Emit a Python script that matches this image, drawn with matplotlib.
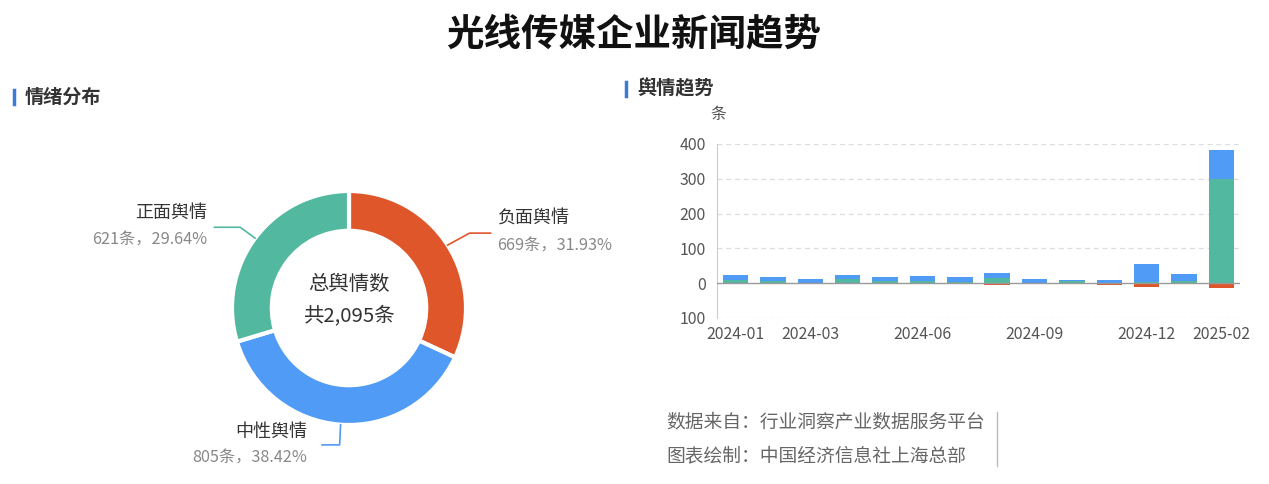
import numpy as np
import matplotlib
matplotlib.use("Agg")
import matplotlib.pyplot as plt

plt.rcParams['font.family'] = ['Noto Sans CJK SC', 'DejaVu Sans']

W, H = 1269, 484

# donut data
pie_names = ['负面舆情', '中性舆情', '正面舆情']
pie_counts = [669, 805, 621]
pie_pcts = ['31.93%', '38.42%', '29.64%']
total_label = '共2,095条'

# monthly trend (stacked: positive + neutral up, negative down)
months = ['2024-01', '2024-02', '2024-03', '2024-04', '2024-05', '2024-06', '2024-07',
          '2024-08', '2024-09', '2024-10', '2024-11', '2024-12', '2025-01', '2025-02']
positive = [10, 7, 2, 12, 5, 6, 3, 14, 1, 7, 1, 3, 6, 300]
neutral = [15, 10, 10, 13, 13, 15, 15, 15, 10, 1, 9, 51, 21, 82]
negative = [0, 0, 0, 0, 2, 0, 0, 6, 0, 0, 5, 12, 0, 15]
shown_months = ['2024-01', '2024-03', '2024-06', '2024-09', '2024-12', '2025-02']
yticks = [-100, 0, 100, 200, 300, 400]

RED = '#E0562B'
BLUE = '#4F9BF5'
GREEN = '#52B8A0'
colors = [RED, BLUE, GREEN]


def fx(px):
    return px / W


def fy(py):
    return 1 - py / H


fig = plt.figure(figsize=(W / 100, H / 100), dpi=100)
fig.patch.set_facecolor('white')

fig.text(fx(634), fy(34), '光线传媒企业新闻趋势', ha='center', va='center',
         fontsize=27, fontweight='heavy', color='#111111')

# section headers
for x, y, t in [(14, 97, '情绪分布'), (626, 89, '舆情趋势')]:
    fig.add_artist(plt.Line2D([fx(x), fx(x)], [fy(y - 7), fy(y + 7)], color='#3A7BD5', lw=2.5))
    fig.text(fx(x + 11), fy(y), t, ha='left', va='center', fontsize=13.8,
             fontweight='bold', color='#333333')

# ---- donut ----
R = 117
cx, cy = 349, 308
pax = fig.add_axes([fx(cx - R), fy(cy + R), 2 * R / W, 2 * R / H])
wedges, _ = pax.pie(pie_counts, colors=colors, startangle=90, counterclock=False,
                    radius=1, wedgeprops=dict(width=0.34, edgecolor='white', linewidth=3))
pax.set_xlim(-1, 1)
pax.set_ylim(-1, 1)
pax.set_aspect('equal')
pax.axis('off')

pax.text(0, 0.2, '总舆情数', ha='center', va='center', fontsize=14.7, color='#333333')
pax.text(0, -0.07, total_label, ha='center', va='center', fontsize=14.7, color='#333333')

# leader lines: (elbow, end, name pos, value pos, align)
leaders = [
    ((1.03, 0.64), (1.21, 0.64), (1.27, 0.77), (1.27, 0.53), 'left'),
    ((-0.08, -1.17), (-0.23, -1.17), (-0.36, -1.06), (-0.36, -1.28), 'right'),
    ((-0.93, 0.69), (-1.15, 0.69), (-1.21, 0.81), (-1.21, 0.58), 'right'),
]
for w, c, name, n, pct, (elb, end, npos, vpos, ha) in zip(
        wedges, colors, pie_names, pie_counts, pie_pcts, leaders):
    ang = np.deg2rad((w.theta1 + w.theta2) / 2)
    sx, sy = np.cos(ang), np.sin(ang)
    pax.plot([sx, elb[0], end[0]], [sy, elb[1], end[1]], color=c, lw=1.2, clip_on=False)
    pax.text(npos[0], npos[1], name, ha=ha, va='center', fontsize=13, color='#333333')
    pax.text(vpos[0], vpos[1], f'{n}条，{pct}', ha=ha, va='center', fontsize=11.7,
             color='#888888')

# ---- bars ----
bax = fig.add_axes([fx(717), fy(318), (1240 - 717) / W, (318 - 144) / H])
x = np.arange(len(months))
pos = np.array(positive)
neu = np.array(neutral)
neg = np.array(negative)
bw = 0.68
bax.bar(x, pos, bw, color=GREEN, zorder=3)
bax.bar(x, neu, bw, bottom=pos, color=BLUE, zorder=3)
bax.bar(x, -neg, bw, color=RED, zorder=3)
bax.axhline(0, color='#999999', lw=1, zorder=4)

bax.set_xlim(-0.5, len(months) - 0.5)
bax.set_ylim(-100, 400)
bax.set_yticks(yticks)
bax.set_yticklabels([str(abs(v)) for v in yticks])
bax.set_xticks([months.index(m) for m in shown_months])
bax.set_xticklabels(shown_months)
bax.tick_params(axis='both', length=0, labelsize=11.4, colors='#555555')
bax.tick_params(axis='y', pad=8)
bax.tick_params(axis='x', pad=6)
for yv in yticks:
    if yv != 0:
        bax.axhline(yv, color='#DDDDDD', lw=0.9, ls=(0, (4, 3)), zorder=1)
for s in ['top', 'right', 'bottom']:
    bax.spines[s].set_visible(False)
bax.spines['left'].set_color('#CCCCCC')
fig.text(fx(718), fy(115), '条', ha='center', va='center', fontsize=11.4, color='#555555')

# ---- footer ----
fig.text(fx(666), fy(422), '数据来自：行业洞察产业数据服务平台', ha='left', va='center',
         fontsize=13.5, color='#666666')
fig.text(fx(666), fy(456), '图表绘制：中国经济信息社上海总部', ha='left', va='center',
         fontsize=13.5, color='#666666')
fig.add_artist(plt.Line2D([fx(997), fx(997)], [fy(412), fy(466)], color='#BBBBBB', lw=1))

fig.savefig('out.png', dpi=100, facecolor='white')
